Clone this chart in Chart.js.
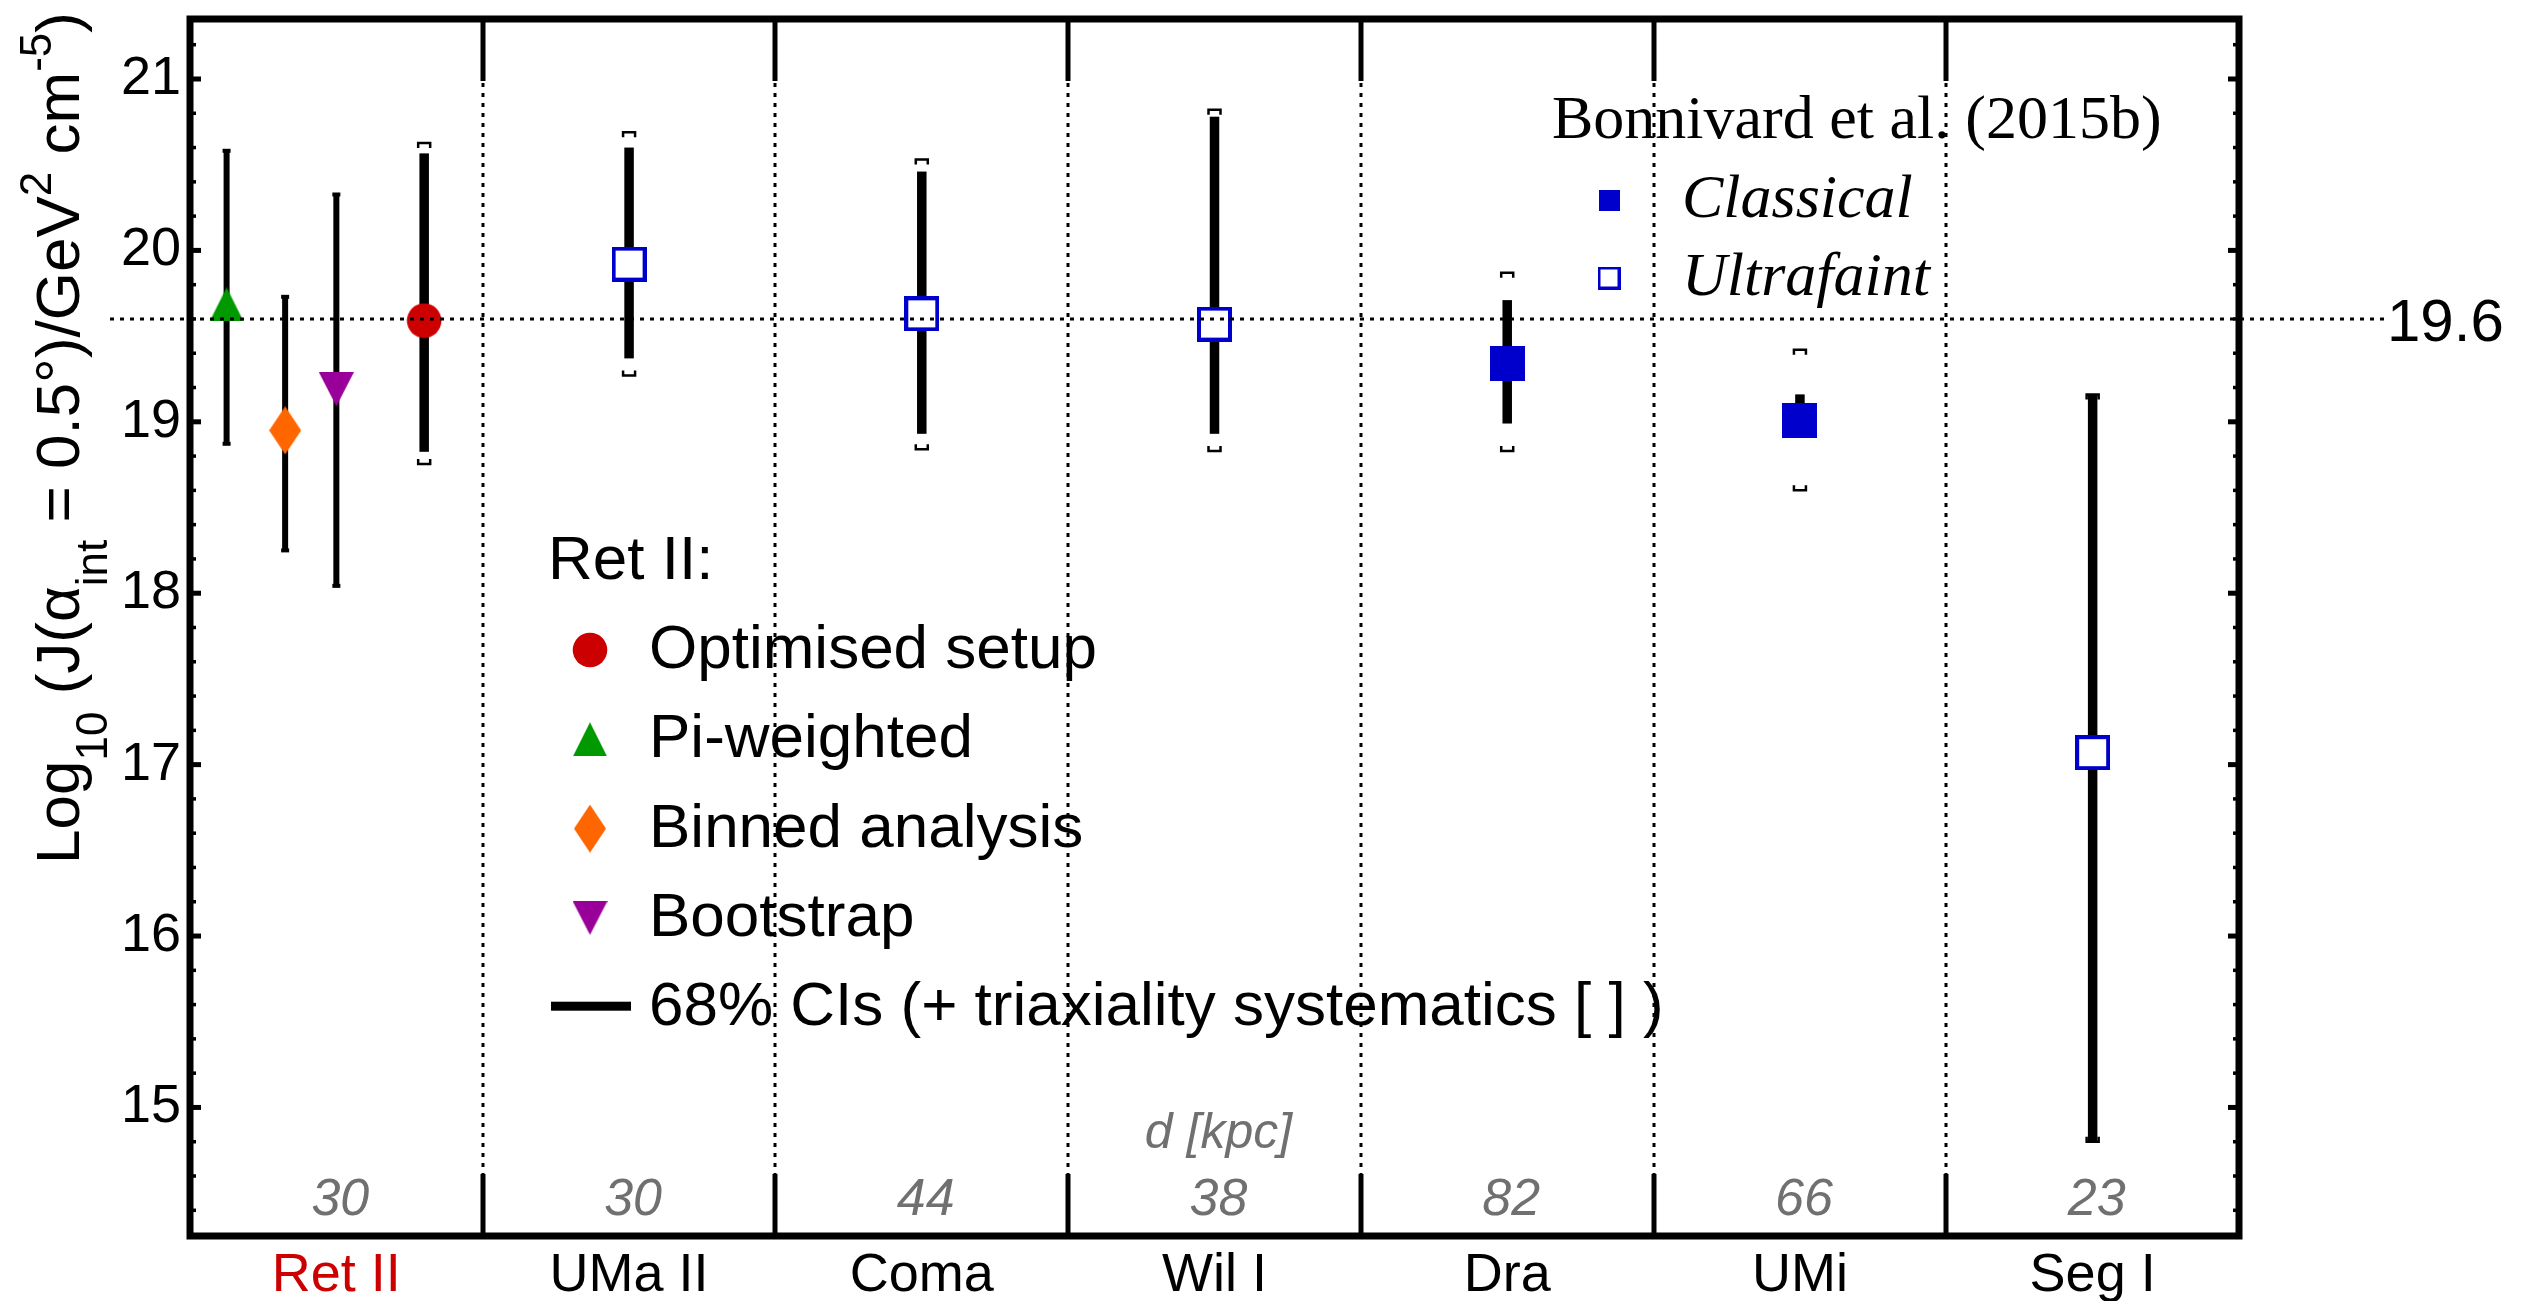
<!DOCTYPE html>
<html>
<head>
<meta charset="utf-8">
<script src="https://cdn.jsdelivr.net/npm/chart.js@4.4.1/dist/chart.umd.min.js"></script>
<style>
  html, body { margin: 0; padding: 0; background: #fff; }
  canvas { display: block; }
</style>
</head>
<body>
<canvas id="jchart" width="2531" height="1301"></canvas>
<script>
// ---- data ---------------------------------------------------------------
// Dwarf galaxies along the x axis and their distances (kpc)
const galaxies = ['Ret II', 'UMa II', 'Coma', 'Wil I', 'Dra', 'UMi', 'Seg I'];
const distancesKpc = [30, 30, 44, 38, 82, 66, 23];
const yTickValues = [15, 16, 17, 18, 19, 20, 21];
const referenceLevel = 19.6;

// Ret II: log10 J for four analysis variants, with 68% CIs
const retMethods = ['Optimised setup', 'Pi-weighted', 'Binned analysis', 'Bootstrap'];
const retJ = [19.59, 19.685, 18.95, 19.19];
const retLow = [18.825, 18.866, 18.244, 18.037];
const retHigh = [20.566, 20.587, 19.735, 20.332];
// triaxiality systematics (optimised setup only)
const retSysLow = [18.754, null, null, null];
const retSysHigh = [20.627, null, null, null];

// Bonnivard et al. (2015b)
const bonGalaxies = ['UMa II', 'Coma', 'Wil I', 'Dra', 'UMi', 'Seg I'];
const bonType = ['Ultrafaint', 'Ultrafaint', 'Ultrafaint', 'Classical', 'Classical', 'Ultrafaint'];
const bonJ = [19.92, 19.63, 19.57, 19.34, 19.005, 17.07];
const bonLow = [19.37, 18.93, 18.93, 18.99, 18.93, 14.80];
const bonHigh = [20.60, 20.46, 20.78, 19.71, 19.16, 19.16];
const bonSysLow = [19.27, 18.84, 18.83, 18.83, 18.60, 14.80];
const bonSysHigh = [20.69, 20.53, 20.82, 19.87, 19.42, 19.16];

// ---- styling --------------------------------------------------------------
const SANS = '"Liberation Sans", Arial, Helvetica, sans-serif';
const SERIF = '"Liberation Serif", "Times New Roman", serif';
const RED = '#cc0000', GREEN = '#009900', ORANGE = '#ff6600', PURPLE = '#990099', BLUE = '#0000cc';
const GREY = '#707070';

// horizontal slot of each Ret II variant inside its category
const retSlot = [0.3, -0.375, -0.175, 0.0];
const retThickBar = [true, false, false, false];

function markerCanvas(w, h, paint) {
  const c = document.createElement('canvas');
  c.width = w; c.height = h;
  paint(c.getContext('2d'), w, h);
  return c;
}
const mkCircle = markerCanvas(36, 36, (g) => {
  g.fillStyle = RED; g.beginPath(); g.arc(18, 18, 17.3, 0, Math.PI * 2); g.fill();
});
const mkUp = markerCanvas(34, 34, (g) => {
  g.fillStyle = GREEN; g.beginPath(); g.moveTo(17, 0); g.lineTo(34, 34); g.lineTo(0, 34); g.closePath(); g.fill();
});
const mkDiamond = markerCanvas(32, 48, (g) => {
  g.fillStyle = ORANGE; g.beginPath(); g.moveTo(16, 0); g.lineTo(32, 24); g.lineTo(16, 48); g.lineTo(0, 24); g.closePath(); g.fill();
});
const mkDown = markerCanvas(35, 34, (g) => {
  g.fillStyle = PURPLE; g.beginPath(); g.moveTo(0, 0); g.lineTo(35, 0); g.lineTo(17.5, 34); g.closePath(); g.fill();
});
function filledSquare(s) {
  return markerCanvas(s, s, (g) => { g.fillStyle = BLUE; g.fillRect(0, 0, s, s); });
}
function openSquare(s, lw) {
  return markerCanvas(s, s, (g) => {
    g.fillStyle = '#fff'; g.fillRect(0, 0, s, s);
    g.strokeStyle = BLUE; g.lineWidth = lw; g.strokeRect(lw / 2, lw / 2, s - lw, s - lw);
  });
}
const retMarkers = [mkCircle, mkUp, mkDiamond, mkDown];
const bonMarkers = { Classical: filledSquare(35), Ultrafaint: openSquare(35, 4) };
const bonLegendMarkers = { Classical: filledSquare(21), Ultrafaint: openSquare(23, 3) };

// ---- datasets ---------------------------------------------------------------
const datasets = [];
retMethods.forEach((name, k) => {
  datasets.push({
    label: name,
    data: [{ x: 1 + retSlot[k], y: retJ[k] }],
    errLow: [retLow[k]], errHigh: [retHigh[k]],
    sysLow: [retSysLow[k]], sysHigh: [retSysHigh[k]],
    thick: retThickBar[k],
    pointStyle: retMarkers[k], pointRadius: 18,
    group: 'ret'
  });
});
['Classical', 'Ultrafaint'].forEach((type) => {
  const idx = bonType.map((t, i) => t === type ? i : -1).filter(i => i >= 0);
  datasets.push({
    label: type,
    data: idx.map(i => ({ x: galaxies.indexOf(bonGalaxies[i]) + 1, y: bonJ[i] })),
    errLow: idx.map(i => bonLow[i]), errHigh: idx.map(i => bonHigh[i]),
    sysLow: idx.map(i => bonSysLow[i]), sysHigh: idx.map(i => bonSysHigh[i]),
    thick: true,
    pointStyle: bonMarkers[type], pointRadius: 18,
    group: 'bon'
  });
});

// ---- drawing helpers ------------------------------------------------------------
function bracket(ctx, x, y, dir) {
  // small "[ ]" style end mark; dir = +1 legs point down, -1 legs point up
  ctx.save();
  ctx.strokeStyle = '#000'; ctx.lineWidth = 2.5; ctx.lineCap = 'butt';
  ctx.beginPath();
  ctx.moveTo(x - 6, y + dir * 5); ctx.lineTo(x - 6, y); ctx.lineTo(x + 6, y); ctx.lineTo(x + 6, y + dir * 5);
  ctx.stroke();
  ctx.restore();
}

function drawErrorBars(chart) {
  const ctx = chart.ctx, ys = chart.scales.y;
  chart.data.datasets.forEach((ds, di) => {
    const meta = chart.getDatasetMeta(di);
    meta.data.forEach((pt, i) => {
      const x = pt.x;
      const yLo = ys.getPixelForValue(ds.errLow[i]);
      const yHi = ys.getPixelForValue(ds.errHigh[i]);
      ctx.fillStyle = '#000';
      if (ds.thick) {
        ctx.fillRect(x - 4.75, yHi, 9.5, yLo - yHi);
      } else {
        ctx.fillRect(x - 3, yHi, 6, yLo - yHi);
        ctx.fillRect(x - 4, yHi - 1, 8, 4);
        ctx.fillRect(x - 4, yLo - 3, 8, 4);
      }
      if (ds.sysHigh[i] != null) bracket(ctx, x, ys.getPixelForValue(ds.sysHigh[i]), 1);
      if (ds.sysLow[i] != null) bracket(ctx, x, ys.getPixelForValue(ds.sysLow[i]), -1);
    });
  });
}

function dotted(ctx, x1, y1, x2, y2) {
  ctx.save();
  ctx.strokeStyle = '#000'; ctx.lineWidth = 3; ctx.setLineDash([4, 6]); ctx.lineCap = 'butt';
  ctx.beginPath(); ctx.moveTo(x1, y1); ctx.lineTo(x2, y2); ctx.stroke();
  ctx.restore();
}

function drawYTitle(ctx) {
  const parts = [
    ['Log', 0, 62], ['10', 1, 44], [' (J(\u03b1', 0, 62], ['int', 1, 44],
    [' = 0.5\u00b0)/GeV', 0, 62], ['2', -1, 44], [' cm', 0, 62], ['-5', -1, 44], [')', 0, 62]
  ];
  ctx.save();
  let total = 0;
  const widths = parts.map(p => { ctx.font = p[2] + 'px ' + SANS; const w = ctx.measureText(p[0]).width; total += w; return w; });
  ctx.translate(79, 438 + total / 2);
  ctx.rotate(-Math.PI / 2);
  ctx.fillStyle = '#000';
  ctx.textBaseline = 'alphabetic';
  let x = 0;
  parts.forEach((p, i) => {
    ctx.font = p[2] + 'px ' + SANS;
    const dy = p[1] === 1 ? 28 : (p[1] === -1 ? -28 : 0);
    ctx.fillText(p[0], x, dy);
    x += widths[i];
  });
  ctx.restore();
}

const decor = {
  id: 'decor',
  beforeDatasetsDraw(chart) {
    drawErrorBars(chart);
  },
  afterDatasetsDraw(chart) {
    const ctx = chart.ctx, xs = chart.scales.x, ys = chart.scales.y;
    const a = chart.chartArea;

    // category separators: solid stubs at the frame, dotted in between
    for (let k = 1; k < galaxies.length; k++) {
      const px = Math.round(xs.getPixelForValue(k + 0.5));
      ctx.save();
      ctx.fillStyle = '#000';
      ctx.fillRect(px - 2.5, a.top, 5, 62);
      ctx.fillRect(px - 2.5, a.bottom - 62, 5, 62);
      ctx.restore();
      dotted(ctx, px, a.top + 64, px, a.bottom - 62);
    }

    // reference level
    const ry = ys.getPixelForValue(referenceLevel);
    dotted(ctx, 110, ry, 2384, ry);
    ctx.save();
    ctx.fillStyle = '#000';
    ctx.font = '60px ' + SANS;
    ctx.textBaseline = 'alphabetic';
    ctx.fillText(String(referenceLevel), 2387, ry + 22);
    ctx.restore();

    // frame and inward ticks
    ctx.save();
    ctx.strokeStyle = '#000'; ctx.fillStyle = '#000';
    ctx.lineWidth = 7;
    ctx.strokeRect(a.left, a.top, a.right - a.left, a.bottom - a.top);
    for (let t = 72; t <= 106; t++) {
      const v = t / 5;
      const py = ys.getPixelForValue(v);
      if (py < a.top + 3 || py > a.bottom - 3) continue;
      const major = t % 5 === 0;
      const len = major ? 11 : 6, th = major ? 5 : 3.5;
      ctx.fillRect(a.left, py - th / 2, len, th);
      ctx.fillRect(a.right - len, py - th / 2, len, th);
    }
    ctx.restore();

    // distances
    ctx.save();
    ctx.fillStyle = GREY;
    ctx.textAlign = 'center';
    ctx.textBaseline = 'alphabetic';
    ctx.font = 'italic 52px ' + SANS;
    distancesKpc.forEach((d, i) => {
      ctx.fillText(String(d), xs.getPixelForValue(i + 1) + 4, a.bottom - 21);
    });
    ctx.font = 'italic 50px ' + SANS;
    ctx.fillText('d [kpc]', xs.getPixelForValue(4) + 4, a.bottom - 88);
    ctx.restore();

    // Ret II legend
    ctx.save();
    ctx.fillStyle = '#000';
    ctx.textBaseline = 'alphabetic';
    ctx.font = '62px ' + SANS;
    ctx.fillText('Ret II:', 548, 579);
    const retSets = chart.data.datasets.filter(d => d.group === 'ret');
    retSets.forEach((ds, k) => {
      const base = 668 + k * 89.3;
      const m = ds.pointStyle;
      ctx.drawImage(m, 590 - m.width / 2, base - 18 - m.height / 2);
      ctx.fillText(ds.label, 649, base);
    });
    const lb = 668 + 4 * 89.3;
    ctx.fillRect(551, lb - 23.5, 80, 9);
    ctx.fillText('68% CIs (+ triaxiality systematics [ ] )', 649, lb);
    ctx.restore();

    // Bonnivard et al. legend
    ctx.save();
    ctx.fillStyle = '#000';
    ctx.textBaseline = 'alphabetic';
    ctx.font = '62px ' + SERIF;
    ctx.fillText('Bonnivard et al. (2015b)', 1552, 138);
    ctx.font = 'italic 62px ' + SERIF;
    const bonSets = chart.data.datasets.filter(d => d.group === 'bon');
    bonSets.forEach((ds, k) => {
      const base = 217 + k * 78;
      const m = bonLegendMarkers[ds.label];
      ctx.drawImage(m, 1609 - m.width / 2, base - 17 - m.height / 2);
      ctx.fillText(ds.label, 1682, base);
    });
    ctx.restore();

    drawYTitle(ctx);
  }
};

new Chart(document.getElementById('jchart'), {
  type: 'scatter',
  data: { datasets },
  options: {
    responsive: false,
    devicePixelRatio: 1,
    animation: false,
    events: [],
    layout: { padding: { left: 0, right: 292, top: 15, bottom: 0 } },
    plugins: { legend: { display: false }, tooltip: { enabled: false } },
    scales: {
      x: {
        type: 'linear', position: 'bottom', min: 0.5, max: 7.5,
        grid: { display: false, drawTicks: false }, border: { display: false },
        afterBuildTicks: (s) => { s.ticks = galaxies.map((_, i) => ({ value: i + 1 })); },
        afterFit: (s) => { s.height = 65; s.paddingLeft = 0; s.paddingRight = 0; },
        ticks: {
          autoSkip: false, maxRotation: 0, padding: 8,
          font: { family: SANS, size: 54 },
          color: (c) => (c.index === 0 ? RED : '#000'),
          callback: (v) => galaxies[Math.round(v) - 1]
        }
      },
      y: {
        type: 'linear', position: 'left', min: 14.25, max: 21.35,
        grid: { display: false, drawTicks: false }, border: { display: false },
        afterBuildTicks: (s) => { s.ticks = yTickValues.map(v => ({ value: v })); },
        afterFit: (s) => { s.width = 190; s.paddingTop = 0; s.paddingBottom = 0; },
        ticks: {
          padding: 9,
          font: { family: SANS, size: 54 },
          color: '#000',
          callback: (v) => String(v)
        }
      }
    }
  },
  plugins: [decor]
});
</script>
</body>
</html>
